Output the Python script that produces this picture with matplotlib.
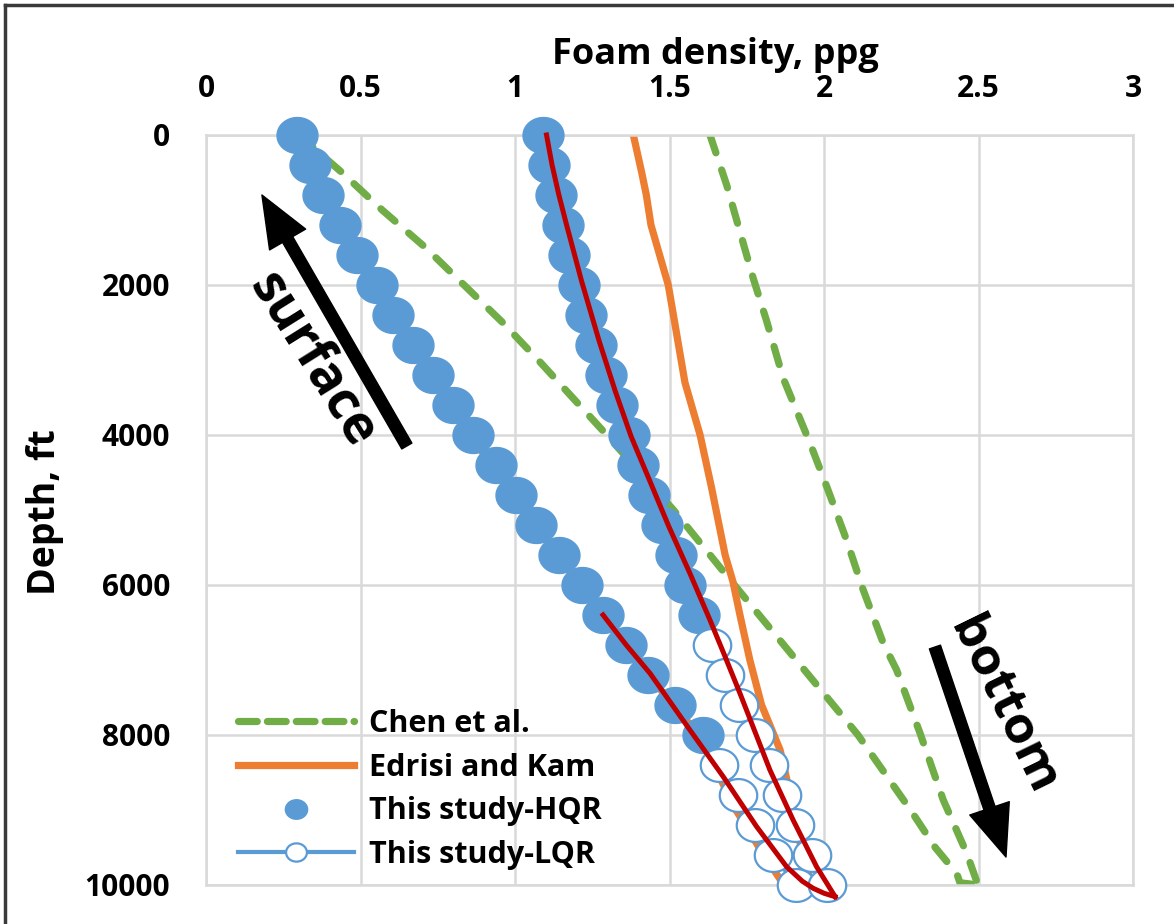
import numpy as np
import matplotlib.pyplot as plt
from matplotlib.lines import Line2D
from matplotlib.path import Path

plt.rcParams['font.family'] = ['Open Sans', 'DejaVu Sans']
plt.rcParams['font.weight'] = 'bold'

BLUE = '#5B9BD5'
ORANGE = '#ED7D31'
GREEN = '#70AD47'
RED = '#C00000'
GRID = '#D9D9D9'

# This study, lighter profile (high quality on top, low quality near bottom)
depth_hqr_1 = [0, 400, 800, 1200, 1600, 2000, 2400, 2800, 3200, 3600, 4000,
               4400, 4800, 5200, 5600, 6000, 6400, 6800, 7200, 7600, 8000]
rho_hqr_1 = [0.295, 0.337, 0.38, 0.434, 0.488, 0.552, 0.606, 0.669, 0.734, 0.80, 0.865,
             0.938, 1.003, 1.068, 1.143, 1.217, 1.284, 1.359, 1.431, 1.518, 1.61]
depth_lqr_1 = [8400, 8800, 9200, 9600, 10000]
rho_lqr_1 = [1.66, 1.723, 1.777, 1.835, 1.908]

# This study, heavier profile
depth_hqr_2 = [0, 400, 800, 1200, 1600, 2000, 2400, 2800, 3200, 3600, 4000,
               4400, 4800, 5200, 5600, 6000, 6400]
rho_hqr_2 = [1.09, 1.111, 1.133, 1.154, 1.176, 1.208, 1.23, 1.262, 1.294, 1.33, 1.37,
             1.399, 1.435, 1.475, 1.521, 1.55, 1.596]
depth_lqr_2 = [6800, 7200, 7600, 8000, 8400, 8800, 9200, 9600, 10000]
rho_lqr_2 = [1.637, 1.68, 1.725, 1.777, 1.822, 1.863, 1.906, 1.96, 2.009]

# Edrisi and Kam
depth_ek_1 = [0, 400, 1000, 2000, 3000, 4000, 5000, 6000, 7000, 8000, 8500, 9000, 9500, 10000]
rho_ek_1 = [0.29, 0.33, 0.41, 0.55, 0.70, 0.855, 1.03, 1.21, 1.39, 1.595, 1.655, 1.715, 1.79, 1.87]
depth_ek_2 = [0, 500, 800, 1200, 2000, 3300, 4000, 4700, 5600, 5950, 6400, 7000, 7600, 8200,
              8600, 9400, 10000]
rho_ek_2 = [1.383, 1.41, 1.425, 1.44, 1.496, 1.55, 1.599, 1.636, 1.68, 1.705, 1.728, 1.76,
            1.798, 1.858, 1.88, 1.92, 1.96]

# Chen et al.
depth_chen_1 = [0, 500, 1000, 1500, 2000, 2500, 3000, 4000, 5000, 6000, 7000, 8000,
                9000, 9500, 9850, 9970, 10000]
rho_chen_1 = [0.30, 0.44, 0.57, 0.71, 0.835, 0.96, 1.075, 1.297, 1.513, 1.71, 1.91, 2.11,
              2.28, 2.36, 2.43, 2.44, 2.50]
depth_chen_2 = [0, 667, 1289, 1911, 2489, 3244, 4111, 4689, 5400, 6067, 6778, 7133,
                7978, 8867, 9578, 9950]
rho_chen_2 = [1.631, 1.685, 1.728, 1.771, 1.815, 1.868, 1.955, 2.009, 2.073, 2.127, 2.192,
              2.235, 2.311, 2.386, 2.462, 2.494]

# fitted curves
depth_fit_1 = [6400, 6800, 7178, 7933, 8556, 9222, 9756, 9950, 10044, 10110, 10156]
rho_fit_1 = [1.285, 1.36, 1.437, 1.566, 1.674, 1.782, 1.879, 1.93, 1.965, 2.0, 2.036]
depth_fit_2 = [0, 400, 800, 1200, 1956, 2756, 3422, 4022, 4600, 5222, 5844, 6467, 6956,
               7444, 8467, 9133, 9756, 10156]
rho_fit_2 = [1.102, 1.12, 1.142, 1.167, 1.216, 1.273, 1.325, 1.376, 1.435, 1.498, 1.566,
             1.631, 1.68, 1.728, 1.825, 1.90, 1.976, 2.036]

x_ticks = [0, 0.5, 1, 1.5, 2, 2.5, 3]
x_tick_labels = ['0', '0.5', '1', '1.5', '2', '2.5', '3']
y_ticks = [0, 2000, 4000, 6000, 8000, 10000]

# slightly wide circle, as the chart was exported
t = np.linspace(0, 2 * np.pi, 73)
wide_circle = Path(np.column_stack([1.14 * np.cos(t), np.sin(t)]))

W, H = 1174, 924
fig = plt.figure(figsize=(W / 100, H / 100), dpi=100)
ax = fig.add_axes([206 / W, 1 - 885 / H, 927 / W, 750 / H])

chen_style = dict(color=GREEN, lw=5.2, dashes=(2.6, 2.5), dash_capstyle='round', zorder=2)
ax.plot(rho_chen_1, depth_chen_1, **chen_style)
ax.plot(rho_chen_2, depth_chen_2, **chen_style)

ax.plot(rho_ek_1, depth_ek_1, color=ORANGE, lw=5.2, zorder=2)
ax.plot(rho_ek_2, depth_ek_2, color=ORANGE, lw=5.2, zorder=2)

for r, d in [(rho_hqr_1, depth_hqr_1), (rho_hqr_2, depth_hqr_2)]:
    ax.plot(r, d, ls='none', marker=wide_circle, ms=29.5, color=BLUE, mec=BLUE,
            zorder=3, clip_on=False)
for r, d in [(rho_lqr_1, depth_lqr_1), (rho_lqr_2, depth_lqr_2)]:
    ax.plot(r, d, '-', marker=wide_circle, color=BLUE, lw=2.5, ms=27, mfc='white',
            mec=BLUE, mew=1.6, zorder=3, clip_on=False)

ax.plot(rho_fit_1, depth_fit_1, color=RED, lw=3.6, zorder=4, clip_on=False)
ax.plot(rho_fit_2, depth_fit_2, color=RED, lw=3.6, zorder=4, clip_on=False)

ax.set_xlim(0, 3)
ax.set_ylim(10000, 0)
ax.xaxis.tick_top()
ax.set_xticks(x_ticks)
ax.set_xticklabels(x_tick_labels)
ax.set_yticks(y_ticks)
ax.tick_params(axis='x', length=0, labelsize=21.5, pad=22)
ax.tick_params(axis='y', length=0, labelsize=21.5, pad=26)
ax.grid(color=GRID, lw=1.8)
ax.set_axisbelow(True)
for s in ax.spines.values():
    s.set_color(GRID)
    s.set_linewidth(1.8)

fig.text(715 / W, 1 - 55 / H, 'Foam density, ppg', ha='center', va='center', fontsize=26)
fig.text(45 / W, 1 - 512 / H, 'Depth, ft', ha='center', va='center', rotation=90,
         fontsize=27)

# direction arrows
arrow = dict(arrowstyle='simple,head_length=1.85,head_width=1.5,tail_width=0.42',
             color='black', shrinkA=0, shrinkB=0, mutation_scale=20)
ax.annotate('', xy=(0.181, 800), xytext=(0.650, 4147), arrowprops=arrow, zorder=5)
ax.annotate('', xy=(2.589, 9627), xytext=(2.359, 6827), arrowprops=arrow, zorder=5)
ax.text(0.345, 3000, 'surface', rotation=-58, rotation_mode='anchor',
        ha='center', va='center', fontsize=38, zorder=5)
ax.text(2.579, 7620, 'bottom', rotation=-64, rotation_mode='anchor',
        ha='center', va='center', fontsize=37, zorder=5)

handles = [
    Line2D([], [], color=GREEN, lw=5.2, dashes=(2.6, 1.4), dash_capstyle='round'),
    Line2D([], [], color=ORANGE, lw=5.2),
    Line2D([], [], ls='none', marker=wide_circle, ms=16, color=BLUE),
    Line2D([], [], color=BLUE, lw=3, marker=wide_circle, ms=15, mfc='white', mec=BLUE,
           mew=1.6),
]
labels = ['Chen et al.', 'Edrisi and Kam', 'This study-HQR', 'This study-LQR']
ax.legend(handles, labels, loc='lower left', bbox_to_anchor=(0.034, 0.02),
          frameon=False, fontsize=22, handlelength=3.8, handletextpad=0.5,
          labelspacing=0.45, borderpad=0, borderaxespad=0)

# outer frame
fig.add_artist(Line2D([5 / W, 5 / W], [0, 1 - 5 / H], color='#3A3A3A', lw=2.5,
                      transform=fig.transFigure))
fig.add_artist(Line2D([5 / W, 1], [1 - 5 / H, 1 - 5 / H], color='#3A3A3A', lw=2.5,
                      transform=fig.transFigure))

fig.savefig('out.png', dpi=100)
